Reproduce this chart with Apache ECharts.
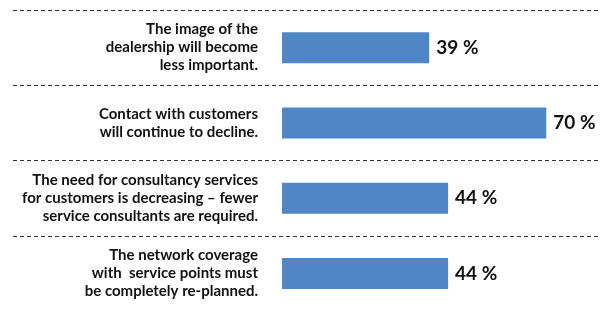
<!DOCTYPE html>
<html>
<head>
<meta charset="utf-8">
<script src="https://cdn.jsdelivr.net/npm/echarts@6/dist/echarts.min.js"></script>
<style>
  html, body { margin: 0; padding: 0; background: #fff; }
  #chart { width: 606px; height: 311px; }
</style>
</head>
<body>
<div id="chart"></div>
<script>
// categories, top to bottom
var categories = [
    'The image of the\ndealership will become\nless important.',
    'Contact with customers\nwill continue to decline.',
    'The need for consultancy services\nfor customers is decreasing \u2013 fewer\nservice consultants are required.',
    'The network coverage\nwith  service points must\nbe completely re-planned.'
];
var values = [39, 70, 44, 44];

var myChart = echarts.init(document.getElementById('chart'));
var font = 'Lato, "Open Sans", sans-serif';

var option = {
    animation: false,
    grid: [
        // bars
        { left: 282, top: 10, height: 301, width: 302 },
        // dashed separators across the whole width
        { left: 13, right: 6, top: 10, height: 301 }
    ],
    xAxis: [
        { gridIndex: 0, type: 'value', min: 0, max: 80, show: false },
        { gridIndex: 1, type: 'value', min: 0, max: 1, show: false }
    ],
    yAxis: [
        {
            gridIndex: 0,
            type: 'category',
            inverse: true,
            data: categories,
            axisLine: { show: false },
            axisTick: { show: false },
            splitLine: { show: false },
            axisLabel: {
                margin: 24,
                align: 'right',
                color: '#111',
                fontFamily: font,
                fontWeight: 'bold',
                fontSize: 15,
                lineHeight: 18,
                padding: [5, 0, 0, 0]
            }
        },
        {
            gridIndex: 1,
            type: 'category',
            inverse: true,
            data: categories,
            axisLine: { show: false },
            axisTick: { show: false },
            axisLabel: { show: false },
            splitLine: {
                show: true,
                showMaxLine: false,
                lineStyle: { color: '#333', width: 1.2, type: [4, 3] }
            }
        }
    ],
    series: [{
        type: 'bar',
        xAxisIndex: 0,
        yAxisIndex: 0,
        data: values,
        barWidth: 31,
        itemStyle: { color: '#5086c5' },
        label: {
            show: true,
            position: 'right',
            distance: 7,
            formatter: '{c} %',
            color: '#111',
            fontFamily: font,
            fontWeight: 'bold',
            fontSize: 19
        }
    }]
};
option && myChart.setOption(option);
</script>
</body>
</html>
